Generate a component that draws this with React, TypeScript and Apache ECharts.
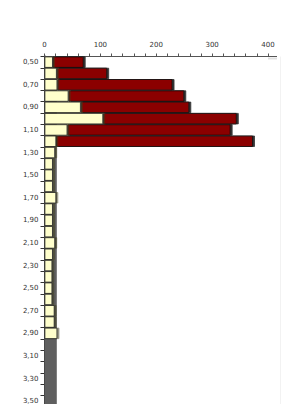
import React, { useEffect, useRef } from "react";
import * as echarts from "echarts";

const categories = [
  "0,50", "0,60", "0,70", "0,80", "0,90", "1,00", "1,10", "1,20",
  "1,30", "1,40", "1,50", "1,60", "1,70", "1,80", "1,90", "2,00",
  "2,10", "2,20", "2,30", "2,40", "2,50", "2,60", "2,70", "2,80",
  "2,90", "3,00", "3,10", "3,20", "3,30", "3,40", "3,50", "3,60",
];

const yellowValues = [
  15, 22, 23, 43, 65, 105, 41, 21,
  19, 15, 15, 15, 21, 15, 15, 15,
  19, 15, 14, 14, 14, 14, 18, 18,
  23, null, null, null, null, null, null, null,
];

const redValues = [
  55, 90, 206, 207, 194, 239, 292, 352,
  null, null, null, null, null, null, null, null,
  null, null, null, null, null, null, null, null,
  null, null, null, null, null, null, null, null,
];

// grey backing column: value width and category span
const grayWidth = 22;
const graySpan = [categories[0], categories[categories.length - 1]];

const xTicks = { min: 0, max: 400, interval: 100 };

const FONT = "DejaVu Sans";

const gridLeft = 44.5;
const gridTop = 56.5;
const gridWidth = 223.5;
const rowH = 11.3;
const chartHeight = Math.ceil(gridTop + rowH * categories.length);

export default function App() {
  const ref = useRef<HTMLDivElement>(null);
  useEffect(() => {
    document.body.style.margin = "0";
    document.body.style.overflow = "hidden";
    document.documentElement.style.overflow = "hidden";
    if (!ref.current) return;
    const chart = echarts.init(ref.current, null, { renderer: "svg" });
    chart.setOption({
      animation: false,
      backgroundColor: "#ffffff",
      grid: {
        left: gridLeft,
        top: gridTop,
        width: gridWidth,
        height: rowH * categories.length,
        containLabel: false,
      },
      xAxis: {
        type: "value",
        position: "top",
        min: xTicks.min,
        max: xTicks.max,
        interval: xTicks.interval,
        axisLine: { show: true, lineStyle: { color: "#555", width: 1 } },
        axisTick: { show: true, length: 3, lineStyle: { color: "#555" } },
        minorTick: { show: true, splitNumber: 5, length: 3, lineStyle: { color: "#555" } },
        splitLine: { show: false },
        axisLabel: {
          fontFamily: FONT,
          fontSize: 7,
          color: "#333",
          margin: 8,
        },
      },
      yAxis: {
        type: "category",
        inverse: true,
        data: categories,
        axisLine: { show: true, lineStyle: { color: "#333", width: 2 } },
        axisTick: { show: true, interval: 0, length: 4, lineStyle: { color: "#333" } },
        axisLabel: {
          interval: 1,
          fontFamily: FONT,
          fontSize: 7,
          color: "#333",
          margin: 6,
        },
        splitLine: { show: false },
      },
      series: [
        {
          name: "base",
          type: "bar",
          stack: "main",
          data: [],
          z: 1,
          silent: true,
          markArea: {
            silent: true,
            itemStyle: { color: "#5f5f5f" },
            data: [
              [
                { xAxis: 0, yAxis: graySpan[0] },
                { xAxis: grayWidth, yAxis: graySpan[1] },
              ],
            ],
          },
        },
        {
          name: "yellow",
          type: "bar",
          stack: "main",
          data: yellowValues,
          barCategoryGap: "0%",
          z: 3,
          itemStyle: {
            color: "#FFFFCC",
            borderColor: "#222",
            borderWidth: 0.8,
            shadowColor: "rgba(60,60,30,0.55)",
            shadowOffsetX: 2,
            shadowOffsetY: 0,
            shadowBlur: 0,
          },
        },
        {
          name: "red",
          type: "bar",
          stack: "main",
          data: redValues,
          barCategoryGap: "0%",
          z: 2,
          itemStyle: {
            color: "#8B0000",
            borderColor: "#111",
            borderWidth: 0.8,
            shadowColor: "rgba(0,0,0,0.8)",
            shadowOffsetX: 2,
            shadowOffsetY: 0,
            shadowBlur: 0,
          },
        },
      ],
      graphic: [
        {
          type: "line",
          shape: { x1: gridLeft + gridWidth, y1: gridTop, x2: 277, y2: gridTop },
          style: { stroke: "#555", lineWidth: 1 },
          silent: true,
        },
        {
          type: "rect",
          shape: { x: gridLeft + gridWidth, y: gridTop + 1, width: 9, height: 2 },
          style: { fill: "rgba(0,0,0,0.12)" },
          silent: true,
        },
        {
          type: "line",
          shape: { x1: 280.5, y1: gridTop, x2: 280.5, y2: chartHeight },
          style: { stroke: "#f2f2f2", lineWidth: 1 },
          silent: true,
        },
      ],
    });
    return () => chart.dispose();
  }, []);
  return <div ref={ref} style={{ width: 300, height: chartHeight }} />;
}
